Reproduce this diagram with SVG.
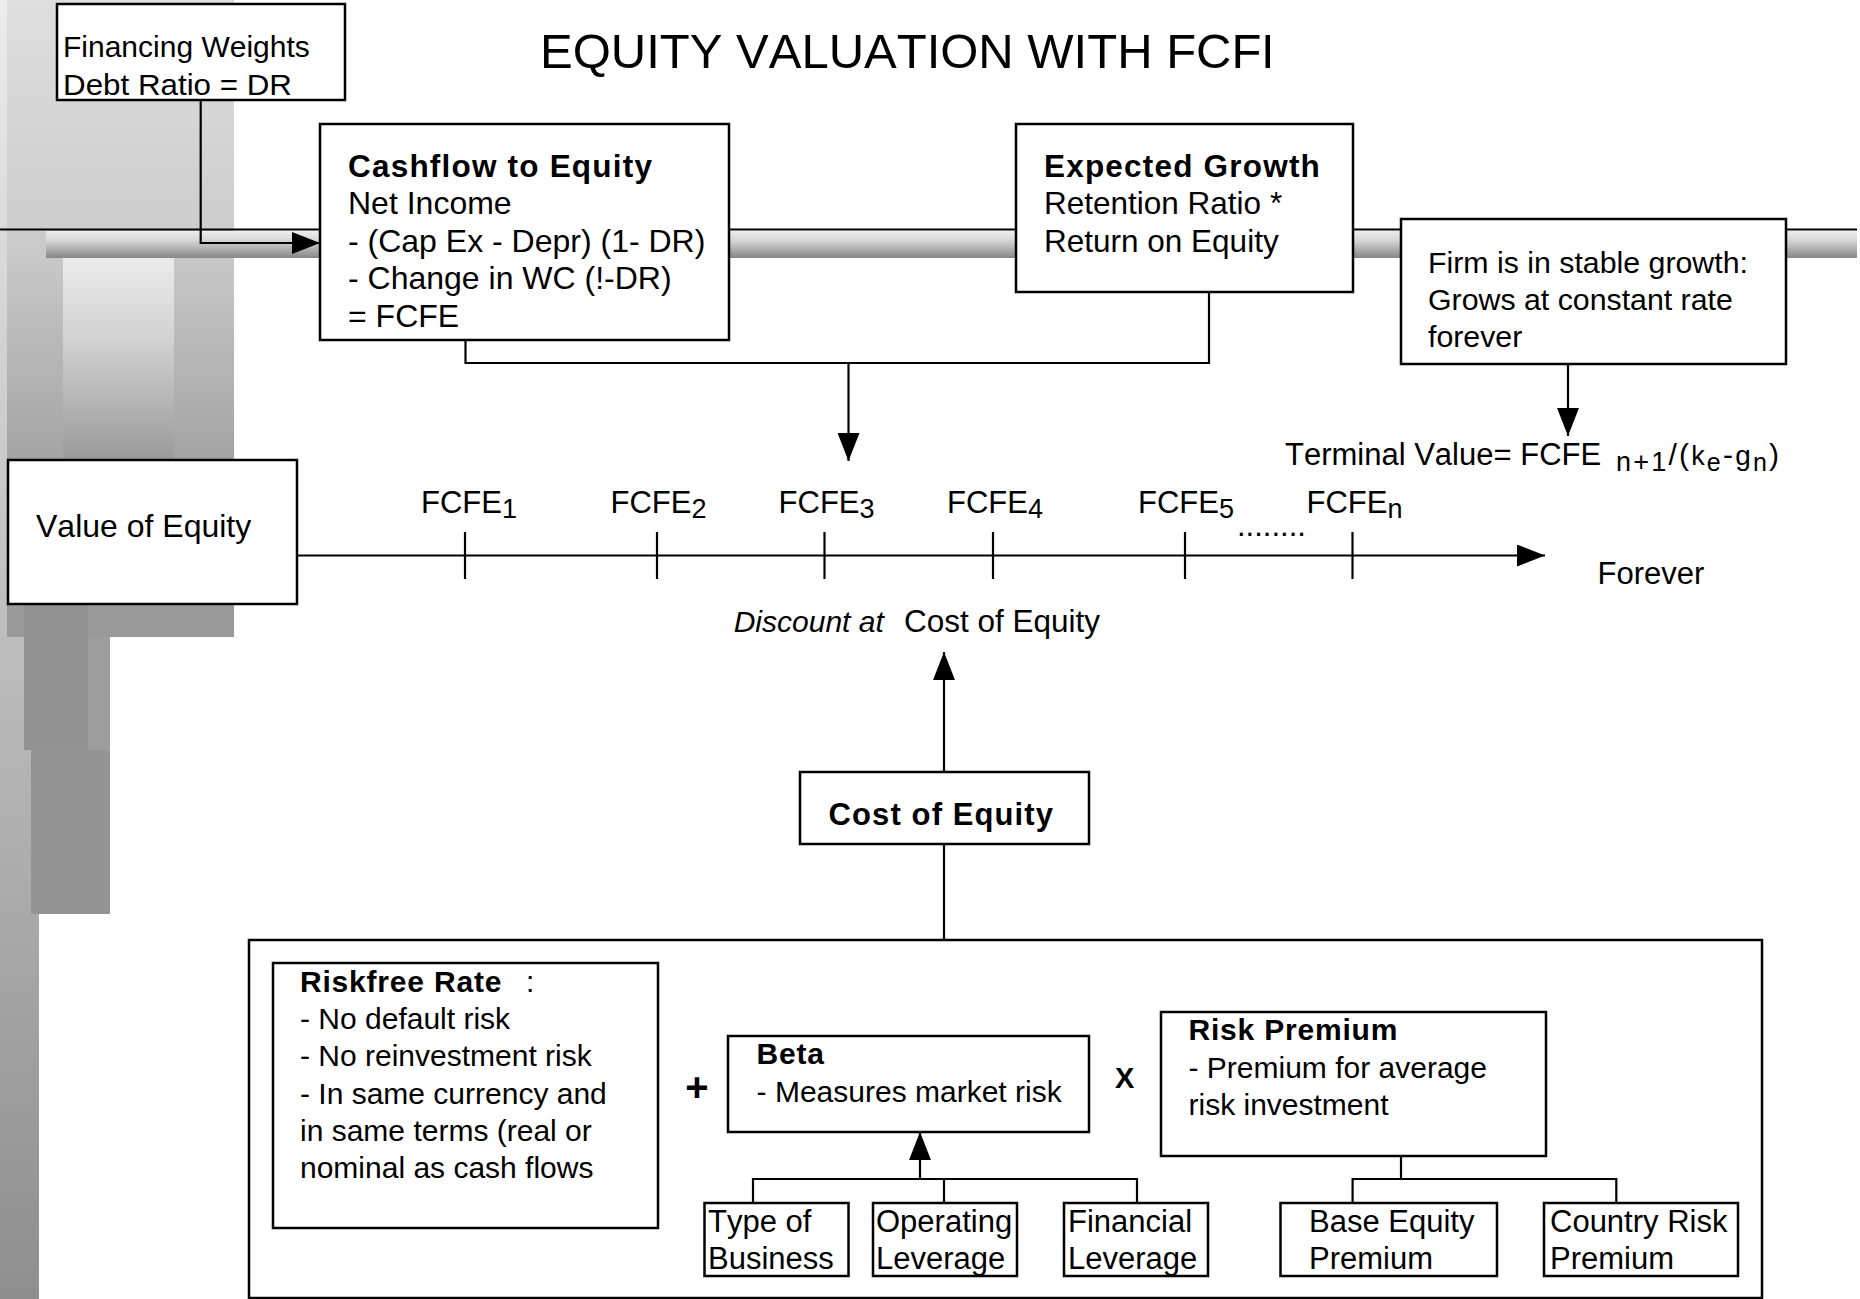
<svg xmlns="http://www.w3.org/2000/svg" width="1860" height="1299" viewBox="0 0 1860 1299">
<defs>
<style>
.t{font-family:"Liberation Sans",Arial,Helvetica,sans-serif;font-size:31.5px;fill:#000;font-kerning:none}
.b{font-weight:bold;letter-spacing:1.2px}
.s{font-size:30px}
.m{font-size:31px}
.sub{font-size:27px}
.box{fill:#fff;stroke:#000;stroke-width:2.5}
.ln{fill:none;stroke:#000;stroke-width:2.2}
.arr{marker-end:url(#ah)}
</style>
<marker id="ah" markerUnits="userSpaceOnUse" markerWidth="28" markerHeight="22" refX="28" refY="11" orient="auto">
<path d="M0,0 L28,11 L0,22 z" fill="#000"/>
</marker>
<linearGradient id="gCol" x1="0" y1="0" x2="0" y2="1">
<stop offset="0" stop-color="#ececec"/><stop offset="0.5" stop-color="#bcbcbc"/><stop offset="1" stop-color="#8e8e8e"/>
</linearGradient>
<linearGradient id="gBig" x1="0" y1="0" x2="0" y2="1">
<stop offset="0" stop-color="#dedede"/><stop offset="0.36" stop-color="#cdcdcd"/><stop offset="0.72" stop-color="#a4a4a4"/><stop offset="1" stop-color="#999999"/>
</linearGradient>
<linearGradient id="gLight" x1="0" y1="0" x2="0" y2="1">
<stop offset="0" stop-color="#ebebeb"/><stop offset="0.4" stop-color="#d2d2d2"/><stop offset="1" stop-color="#9a9a9a"/>
</linearGradient>
<linearGradient id="gBar" x1="0" y1="0" x2="0" y2="1">
<stop offset="0" stop-color="#eeeeee"/><stop offset="0.35" stop-color="#d6d6d6"/><stop offset="1" stop-color="#878787"/>
</linearGradient>
<clipPath id="titleClip"><rect x="0" y="0" width="1270" height="120"/></clipPath>
</defs>

<rect width="1860" height="1299" fill="#fff"/>

<g id="background">
<rect x="0" y="0" width="39" height="1299" fill="url(#gCol)"/>
<rect x="7" y="0" width="227" height="637" fill="url(#gBig)"/>
<rect x="63" y="258" width="111" height="202" fill="url(#gLight)"/>
<rect x="24" y="600" width="64" height="150" fill="#929292"/>
<rect x="88" y="637" width="22" height="277" fill="#9d9d9d"/>
<rect x="31" y="750" width="79" height="164" fill="#949494"/>
<rect x="46" y="231" width="1811" height="27" fill="url(#gBar)"/>
<path d="M0,229.5 H1857" stroke="#000" stroke-width="2.2" fill="none"/>
</g>

<g id="title">
<text class="t" x="540" y="68" style="font-size:49px" clip-path="url(#titleClip)">EQUITY VALUATION WITH FCFE</text>
</g>

<g id="cost-of-equity-components">
<rect class="box" x="249" y="940" width="1513" height="358"/>
</g>

<g id="connectors">
<path class="ln arr" d="M200.7,100 V243 H320"/>
<path class="ln" d="M465.5,340 V363 H1209 V292"/>
<path class="ln arr" d="M848.5,363 V461"/>
<path class="ln arr" d="M1568,364 V436"/>
<path class="ln arr" d="M297,555.5 H1545"/>
<path class="ln" d="M465,532 V579 M657,532 V579 M824.5,532 V579 M993,532 V579 M1185,532 V579 M1352.5,532 V579"/>
<path class="ln arr" d="M944,772 V652"/>
<path class="ln" d="M944,844 V940"/>
<path class="ln" d="M753,1203 V1179 H1137 V1203 M944,1179 V1203"/>
<path class="ln arr" d="M920,1179 V1132"/>
<path class="ln" d="M1401,1156 V1179 M1352.6,1203 V1179 H1616.3 V1203"/>
</g>

<g id="financing-weights">
<rect class="box" x="57" y="4" width="288" height="96"/>
<text class="t s"><tspan x="63" y="57">Financing Weights</tspan><tspan x="63" y="95" textLength="229" lengthAdjust="spacingAndGlyphs">Debt Ratio = DR</tspan></text>
</g>

<g id="cashflow-to-equity">
<rect class="box" x="320" y="124" width="409" height="216"/>
<text class="t" style="font-size:32px"><tspan class="b" x="348" y="176.5" style="font-size:31.5px">Cashflow to Equity</tspan><tspan x="348" y="214">Net Income</tspan><tspan x="348" y="251.7">- (Cap Ex - Depr) (1- DR)</tspan><tspan x="348" y="289.3">- Change in WC (!-DR)</tspan><tspan x="348" y="327">= FCFE</tspan></text>
</g>

<g id="expected-growth">
<rect class="box" x="1016" y="124" width="337" height="168"/>
<text class="t"><tspan class="b" x="1044" y="176.5">Expected Growth</tspan><tspan x="1044" y="214">Retention Ratio *</tspan><tspan x="1044" y="251.7">Return on Equity</tspan></text>
</g>

<g id="stable-growth">
<rect class="box" x="1401" y="219" width="385" height="145"/>
<text class="t" style="font-size:30.3px"><tspan x="1428" y="273">Firm is in stable growth:</tspan><tspan x="1428" y="310">Grows at constant rate</tspan><tspan x="1428" y="347">forever</tspan></text>
</g>

<g id="terminal-value">
<text class="t" x="1285" y="465" style="font-size:31px">Terminal Value= FCFE</text>
<text class="t" x="1616" y="471" style="font-size:30px;letter-spacing:2.2px"><tspan style="font-size:27px">n+1</tspan><tspan dy="-6">/(</tspan><tspan style="font-size:27px">k</tspan><tspan dy="6" style="font-size:25px">e</tspan><tspan dy="-6">-</tspan><tspan style="font-size:28px">g</tspan><tspan dy="6" style="font-size:25px">n</tspan><tspan dy="-6">)</tspan></text>
</g>

<g id="value-of-equity">
<rect class="box" x="8" y="460" width="289" height="144"/>
<text class="t" x="36" y="537" style="font-size:32px">Value of Equity</text>
</g>

<g id="timeline-labels">
<text class="t m" x="421" y="513">FCFE<tspan class="sub" y="518">1</tspan></text>
<text class="t m" x="610.5" y="513">FCFE<tspan class="sub" y="518">2</tspan></text>
<text class="t m" x="778.6" y="513">FCFE<tspan class="sub" y="518">3</tspan></text>
<text class="t m" x="947" y="513">FCFE<tspan class="sub" y="518">4</tspan></text>
<text class="t m" x="1138" y="513">FCFE<tspan class="sub" y="518">5</tspan></text>
<text class="t m" x="1306.5" y="513">FCFE<tspan class="sub" y="518">n</tspan></text>
<text class="t m" x="1237" y="536">........</text>
<text class="t m" x="1597.5" y="584">Forever</text>
<text class="t" y="632"><tspan x="733.7" style="font-style:italic;font-size:30px">Discount at</tspan><tspan x="904">Cost of Equity</tspan></text>
</g>

<g id="cost-of-equity">
<rect class="box" x="800" y="772" width="289" height="72"/>
<text class="t b" x="828.6" y="825" style="font-size:31px;letter-spacing:1.1px">Cost of Equity</text>
</g>

<g id="riskfree-rate">
<rect class="box" x="273" y="963" width="385" height="265"/>
<text class="t s"><tspan class="b" x="300" y="992" style="letter-spacing:0.8px">Riskfree Rate</tspan><tspan x="526" y="992">:</tspan><tspan x="300" y="1029">- No default risk</tspan><tspan x="300" y="1066">- No reinvestment risk</tspan><tspan x="300" y="1104">- In same currency and</tspan><tspan x="300" y="1141">in same terms (real or</tspan><tspan x="300" y="1178">nominal as cash flows</tspan></text>
</g>

<g id="plus">
<text class="t" x="697" y="1101" text-anchor="middle" style="font-size:40px;font-weight:bold">+</text>
</g>

<g id="beta">
<rect class="box" x="728" y="1036" width="361" height="96"/>
<text class="t s"><tspan class="b" x="756.6" y="1064" style="letter-spacing:0.8px">Beta</tspan><tspan x="756.6" y="1101.7">- Measures market risk</tspan></text>
</g>

<g id="times">
<text class="t" x="1115" y="1088" style="font-size:29px;font-weight:bold">X</text>
</g>

<g id="risk-premium">
<rect class="box" x="1161" y="1012" width="385" height="144"/>
<text class="t s"><tspan class="b" x="1188.5" y="1040" style="letter-spacing:0.8px">Risk Premium</tspan><tspan x="1188.5" y="1078">- Premium for average</tspan><tspan x="1188.5" y="1115">risk investment</tspan></text>
</g>

<g id="type-of-business">
<rect class="box" x="704.5" y="1203" width="144" height="73"/>
<text class="t m"><tspan x="708" y="1232">Type of</tspan><tspan x="708" y="1269">Business</tspan></text>
</g>

<g id="operating-leverage">
<rect class="box" x="873" y="1203" width="144" height="73"/>
<text class="t m"><tspan x="876" y="1232">Operating</tspan><tspan x="876" y="1269">Leverage</tspan></text>
</g>

<g id="financial-leverage">
<rect class="box" x="1064" y="1203" width="144" height="73"/>
<text class="t m"><tspan x="1068" y="1232">Financial</tspan><tspan x="1068" y="1269">Leverage</tspan></text>
</g>

<g id="base-equity-premium">
<rect class="box" x="1280.5" y="1203" width="216.5" height="73"/>
<text class="t m"><tspan x="1309" y="1232">Base Equity</tspan><tspan x="1309" y="1269">Premium</tspan></text>
</g>

<g id="country-risk-premium">
<rect class="box" x="1544" y="1203" width="194" height="73"/>
<text class="t m"><tspan x="1550" y="1232">Country Risk</tspan><tspan x="1550" y="1269">Premium</tspan></text>
</g>
</svg>
